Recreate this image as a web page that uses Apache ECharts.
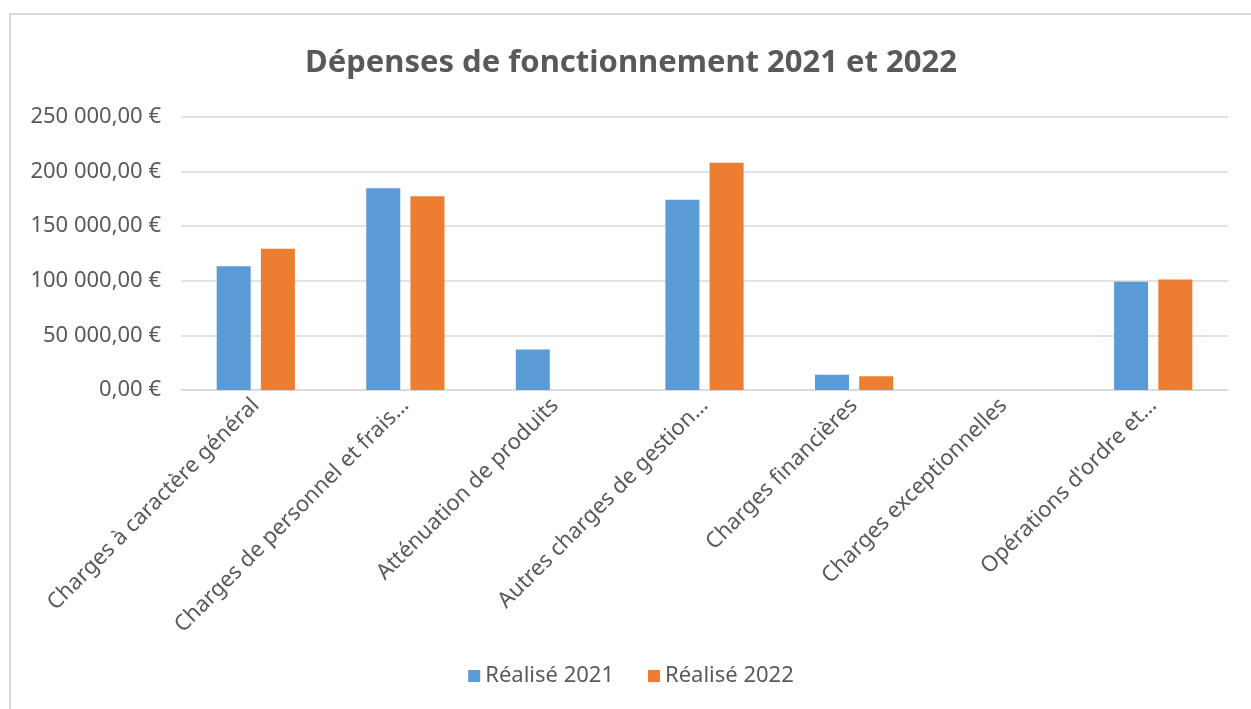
<!DOCTYPE html>
<html>
<head>
<meta charset="utf-8">
<script src="https://cdn.jsdelivr.net/npm/echarts@6/dist/echarts.min.js"></script>
<style>
  html, body { margin: 0; padding: 0; background: #fff; }
  #mainChart {
    position: absolute;
    left: 9px;
    top: 13px;
    width: 1240px;
    height: 700px;
    border: 2px solid #d9d9d9;
    border-bottom: none;
  }
</style>
</head>
<body>
<div id="mainChart"></div>
<script>
// categories (as shown, Excel truncates the long ones)
var categories = [
  "Charges à caractère général",
  "Charges de personnel et frais…",
  "Atténuation de produits",
  "Autres charges de gestion…",
  "Charges financières",
  "Charges exceptionnelles",
  "Opérations d'ordre et…"
];
var seriesNames = ["Réalisé 2021", "Réalisé 2022"];
var realise2021 = [113400, 184800, 37100, 174200, 13900, 0, 99100];
var realise2022 = [129300, 177500, 0, 208100, 12600, 0, 101200];
var yTicks = { min: 0, max: 250000, step: 50000 };

var textColor = "#595959";
var fontFamily = "'Noto Sans', sans-serif";

function euro(v) {
  return String(v).replace(/\B(?=(\d{3})+(?!\d))/g, " ") + ",00 €";
}

var chart = echarts.init(document.getElementById("mainChart"));
var option = {
  animation: false,
  textStyle: { fontFamily: fontFamily, color: textColor },
  title: {
    text: "Dépenses de fonctionnement 2021 et 2022",
    left: "center",
    top: 28,
    textStyle: {
      fontFamily: fontFamily,
      fontSize: 31,
      fontWeight: "bold",
      color: textColor,
    },
  },
  legend: {
    data: seriesNames,
    bottom: 23,
    left: "center",
    icon: "rect",
    itemWidth: 12,
    itemHeight: 12,
    itemGap: 34,
    textStyle: { fontFamily: fontFamily, fontSize: 22, color: textColor },
  },
  grid: {
    left: 170,
    right: 23,
    top: 102,
    bottom: 325,
    containLabel: false,
  },
  xAxis: {
    type: "category",
    data: categories,
    axisLine: { lineStyle: { color: "#d9d9d9", width: 1.5 } },
    axisTick: { show: false },
    axisLabel: {
      rotate: 45,
      interval: 0,
      margin: 12,
      fontSize: 22,
      color: textColor,
      fontFamily: fontFamily,
    },
  },
  yAxis: {
    type: "value",
    min: yTicks.min,
    max: yTicks.max,
    interval: yTicks.step,
    axisLine: { show: false },
    axisTick: { show: false },
    splitLine: { lineStyle: { color: "#d9d9d9", width: 1.5 } },
    axisLabel: {
      margin: 20,
      fontSize: 22,
      color: textColor,
      fontFamily: fontFamily,
      formatter: euro,
    },
  },
  series: [
    {
      name: seriesNames[0],
      type: "bar",
      data: realise2021,
      barWidth: 34,
      barGap: "30%",
      itemStyle: { color: "#5b9bd5" },
    },
    {
      name: seriesNames[1],
      type: "bar",
      data: realise2022,
      barWidth: 34,
      barGap: "30%",
      itemStyle: { color: "#ed7d31" },
    },
  ],
};
chart.setOption(option);
</script>
</body>
</html>
